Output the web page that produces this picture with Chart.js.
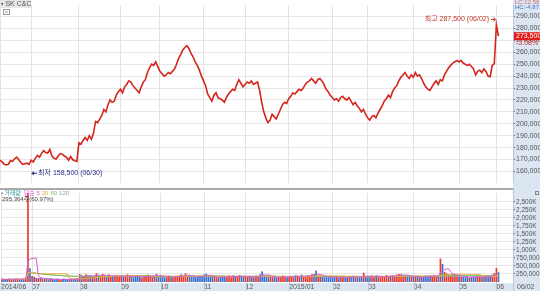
<!DOCTYPE html>
<html>
<head>
<meta charset="utf-8">
<script src="https://cdn.jsdelivr.net/npm/chart.js@4.4.0/dist/chart.umd.min.js"></script>
<style>
  html, body { margin: 0; padding: 0; background: #fff; }
  #wrap { position: relative; width: 540px; height: 291px; overflow: hidden; }
  #priceBox { position: absolute; left: 0; top: 0; width: 540px; height: 188px; }
  #volBox { position: absolute; left: 0; top: 188px; width: 540px; height: 103px; }
</style>
</head>
<body>
<div id="wrap">
  <div id="priceBox"><canvas id="priceChart"></canvas></div>
  <div id="volBox"><canvas id="volChart"></canvas></div>
</div>
<script>
// month boundaries (trading-day index) and their labels
const monthStart = [0, 15, 38, 58, 77, 98, 118, 139, 160, 177, 199, 221, 239];
const monthLabel = ['2014/06', '07', '08', '09', '10', '11', '12', '2015/01', '02', '03', '04', '05', '06'];
const slots = 248;

// daily close, won
const closePrice = [
  169500, 168000, 166000, 165500, 166000, 169000, 168500, 170500, 172000, 170000, 167500, 166000, 166500, 167000, 166000,
  169500, 168000, 171000, 173500, 172000, 175000, 177500, 176000, 175500, 178500, 173000, 171000, 170500, 173000, 175000, 174500, 173000, 172000, 169500, 172500, 170000, 169000, 168500,
  184000, 183000, 186000, 188500, 186000, 190000, 187000, 192000, 202000, 201000, 204000, 207000, 212000, 210000, 216000, 220000, 218000, 219000, 224000, 227000,
  229000, 226000, 231000, 233000, 236000, 235000, 232000, 230000, 228000, 226000, 231000, 235000, 237000, 243000, 247000, 250000, 249000, 252000, 248000,
  244000, 242000, 240000, 241000, 243000, 242000, 244000, 246000, 250000, 255000, 258000, 262000, 264000, 265500, 263000, 259000, 256000, 252000, 249000, 245000, 240000,
  236000, 232000, 225000, 222000, 219000, 224000, 226000, 222000, 221000, 220000, 218000, 222000, 225000, 227000, 229000, 228000, 233000, 237000, 234000, 231000,
  233000, 235000, 234000, 236000, 233000, 234000, 235000, 228000, 218000, 210000, 205000, 201000, 203000, 208000, 206000, 204000, 208000, 212000, 216000, 218000, 217000,
  221000, 223000, 226000, 225000, 227000, 229000, 228000, 230000, 233000, 235000, 236000, 238000, 236000, 234000, 237000, 238000, 236000, 233000, 229000, 227000, 224000,
  222000, 220000, 221000, 219000, 222000, 223000, 221000, 220000, 222000, 219000, 216000, 218000, 215000, 213000, 210000, 212000, 208000,
  205000, 203000, 206000, 207000, 205000, 209000, 212000, 215000, 219000, 221000, 224000, 222000, 227000, 230000, 232000, 236000, 239000, 241000, 243000, 240000, 238000, 241000,
  239000, 243000, 240000, 241000, 238000, 234000, 231000, 229000, 228000, 231000, 234000, 236000, 233000, 237000, 236000, 241000, 244000, 247000, 249000, 251000, 252000, 253000,
  252000, 253000, 251000, 250000, 249000, 250000, 248000, 246000, 241000, 244000, 245000, 243000, 246000, 244000, 240000, 239500, 249000, 250500,
  283000, 273500
];

// daily volume, thousand shares
const volumeK = [
  80, 90, 70, 85, 95, 75, 80, 110, 90, 70, 85, 100, 120, 2850, 420,
  180, 150, 120, 110, 130, 100, 90, 95, 80, 110, 85, 75, 90, 80, 70, 95, 85, 80, 75, 90, 85, 100, 110,
  240, 200, 180, 230, 160, 210, 150, 190, 260, 220, 180, 240, 200, 170, 230, 150, 190, 210, 180, 160,
  200, 170, 150, 230, 190, 160, 140, 180, 210, 150, 130, 170, 190, 220, 200, 160, 180, 240, 170,
  210, 150, 130, 170, 190, 150, 140, 160, 180, 200, 230, 170, 260, 190, 210, 150, 170, 140, 160, 190, 180,
  220, 250, 190, 170, 160, 150, 140, 130, 170, 180, 150, 160, 190, 140, 200, 170, 150, 210, 180, 160,
  170, 150, 180, 160, 140, 190, 150, 230, 320, 200, 180, 170, 150, 140, 160, 130, 150, 170, 190, 150, 140,
  170, 180, 150, 200, 190, 160, 220, 170, 180, 200, 190, 230, 240, 350, 180, 170, 160, 150, 140, 170, 160,
  140, 150, 170, 130, 150, 160, 140, 130, 170, 150, 190, 140, 160, 130, 150, 280, 170,
  150, 160, 190, 170, 200, 180, 150, 160, 170, 210, 180, 190, 200, 170, 220, 240, 230, 210, 190, 200, 180, 170,
  160, 150, 170, 140, 150, 160, 190, 170, 200, 180, 210, 160, 190, 720, 550, 300, 260, 230, 200, 250, 220, 190,
  180, 160, 150, 140, 170, 130, 150, 160, 170, 180, 150, 140, 160, 170, 190, 200, 220, 260,
  430, 295
];

const priceTicks = [160000, 170000, 180000, 190000, 200000, 210000, 220000, 230000, 240000, 250000, 260000, 270000, 280000, 290000];
const volumeTicks = [250000, 500000, 750000, 1000000, 1250000, 1500000, 1750000, 2000000, 2250000, 2500000];
const maPeriods = [5, 20, 60, 120];
const maColors = ['#d85ad8', '#e3b13c', '#7cbf5a', '#b4b4b4'];

const FONT = "'Liberation Sans', 'Noto Sans CJK KR', sans-serif";
const BAND = '#dce6f2';
const labels = Array.from({ length: slots }, (_, i) => i);
const volume = volumeK.map(v => v * 1000);
const barColors = closePrice.map((p, i) => (i === 0 || p >= closePrice[i - 1]) ? '#e5392f' : '#3a6fd0');

function movingAvg(arr, n) {
  return arr.map((_, i) => {
    const from = Math.max(0, i - n + 1);
    const part = arr.slice(from, i + 1);
    return part.reduce((a, b) => a + b, 0) / part.length;
  });
}

const monthGrid = ctx => (ctx.tick && monthStart.includes(ctx.tick.value)) ? '#e2e2e2' : 'rgba(0,0,0,0)';

function text(ctx, s, x, y, color, align) {
  ctx.fillStyle = color;
  ctx.textAlign = align || 'left';
  ctx.fillText(s, x, y);
  return x + ctx.measureText(s).width;
}

// light blue axis area + annotations on the price panel
const pricePlugin = {
  id: 'priceExtras',
  beforeDraw(chart) {
    const { ctx, chartArea } = chart;
    ctx.save();
    ctx.fillStyle = BAND;
    ctx.fillRect(chartArea.right, 0, chart.width - chartArea.right, chart.height);
    ctx.restore();
  },
  afterDraw(chart) {
    const { ctx, chartArea, scales } = chart;
    const y = scales.y, x = scales.x;
    ctx.save();
    ctx.font = '7px ' + FONT;
    ctx.textBaseline = 'middle';

    // series label top-left
    ctx.fillStyle = '#e6e6e6';
    ctx.fillRect(0, 0, 31, 8);
    text(ctx, '▪ SK C&C', 1, 4, '#555');
    ctx.strokeStyle = '#999';
    ctx.strokeRect(3.5, 9.5, 6, 5);
    ctx.beginPath(); ctx.moveTo(5, 12); ctx.lineTo(8, 12); ctx.stroke();

    // high marker
    const yHi = y.getPixelForValue(287500);
    text(ctx, '최고 287,500 (06/02)', 489, yHi, '#c0392b', 'right');
    const xHi = x.getPixelForValue(239);
    ctx.strokeStyle = '#c0392b';
    ctx.beginPath(); ctx.moveTo(491, yHi); ctx.lineTo(xHi - 1, yHi); ctx.stroke();
    ctx.beginPath(); ctx.moveTo(xHi - 3, yHi - 2); ctx.lineTo(xHi - 1, yHi); ctx.lineTo(xHi - 3, yHi + 2); ctx.stroke();

    // low marker
    const yLo = y.getPixelForValue(158500);
    const xLo = x.getPixelForValue(14) + 2;
    ctx.fillStyle = '#2b2b8c';
    ctx.beginPath(); ctx.moveTo(xLo, yLo); ctx.lineTo(xLo + 3, yLo - 2); ctx.lineTo(xLo + 3, yLo + 2); ctx.fill();
    ctx.strokeStyle = '#2b2b8c';
    ctx.beginPath(); ctx.moveTo(xLo + 3, yLo); ctx.lineTo(xLo + 6, yLo); ctx.stroke();
    text(ctx, '최저 158,500 (06/30)', xLo + 7, yLo, '#2b2b8c');

    // last price box
    const last = closePrice[closePrice.length - 1];
    const yLast = y.getPixelForValue(last);
    ctx.fillStyle = '#e31b1b';
    ctx.fillRect(chartArea.right + 1, yLast - 4, chart.width - chartArea.right - 1, 8);
    text(ctx, '273,500', chartArea.right + 3, yLast, '#fff');
    text(ctx, '-3.08%', chartArea.right + 3, yLast + 7, '#d03030');

    ctx.font = '6px ' + FONT;
    text(ctx, 'LC:12.56', chartArea.right + 2, 2.5, '#d06a6a');
    text(ctx, 'HC:-4.87', chartArea.right + 2, 7.5, '#4a6ac8');
    ctx.restore();
  }
};

const volPlugin = {
  id: 'volExtras',
  beforeDraw(chart) {
    const { ctx, chartArea } = chart;
    ctx.save();
    ctx.fillStyle = BAND;
    ctx.fillRect(chartArea.right, 0, chart.width - chartArea.right, chart.height);
    ctx.fillRect(0, chartArea.bottom + 1, chart.width, chart.height - chartArea.bottom);
    ctx.restore();
  },
  afterDraw(chart) {
    const { ctx, chartArea, scales } = chart;
    ctx.save();
    // panel separator
    ctx.strokeStyle = '#a9a9a9';
    ctx.lineWidth = 2;
    ctx.beginPath(); ctx.moveTo(0, 1); ctx.lineTo(chartArea.right, 1); ctx.stroke();
    // dividers in the date strip
    ctx.lineWidth = 1;
    ctx.strokeStyle = '#b9c6d8';
    monthStart.forEach(i => {
      const px = Math.round(scales.x.getPixelForValue(i)) + 0.5;
      ctx.beginPath(); ctx.moveTo(px, chartArea.bottom); ctx.lineTo(px, chart.height); ctx.stroke();
    });
    ctx.beginPath(); ctx.moveTo(chartArea.right + 0.5, 0); ctx.lineTo(chartArea.right + 0.5, chart.height); ctx.stroke();

    ctx.textBaseline = 'middle';
    ctx.font = '6px ' + FONT;
    let cx = text(ctx, '▪', 1, 5, '#888') + 1;
    cx = text(ctx, '거래량', cx, 5, '#2a9a9a') + 3;
    cx = text(ctx, '단순 5', cx, 5, maColors[0]) + 2;
    cx = text(ctx, '20', cx, 5, maColors[1]) + 2;
    cx = text(ctx, '60', cx, 5, maColors[2]) + 2;
    text(ctx, '120', cx, 5, '#a0a0a0');
    text(ctx, '295,364주(60.97%)', 2, 11, '#444');
    ctx.font = '7px ' + FONT;
    text(ctx, '06/02', chartArea.right + 4, chart.height - 4, '#555');

    ctx.strokeStyle = '#888';
    ctx.strokeRect(535.5, 3.5, 3, 3);
    ctx.restore();
  }
};

new Chart(document.getElementById('priceChart'), {
  type: 'line',
  data: {
    labels: labels,
    datasets: [{
      data: closePrice,
      borderColor: '#d3261c',
      borderWidth: 1.6,
      pointRadius: 0,
      tension: 0
    }]
  },
  options: {
    responsive: true,
    maintainAspectRatio: false,
    animation: false,
    layout: { padding: 0 },
    plugins: { legend: { display: false }, tooltip: { enabled: false } },
    scales: {
      x: {
        type: 'category',
        offset: false,
        ticks: { display: false, autoSkip: false },
        grid: { color: monthGrid, drawTicks: false, offset: false },
        border: { display: false },
        afterFit: s => { s.height = 0; }
      },
      y: {
        position: 'right',
        min: 150500,
        max: 299500,
        afterBuildTicks: s => { s.ticks = priceTicks.map(v => ({ value: v })); },
        ticks: {
          autoSkip: false,
          padding: 1,
          color: '#555',
          font: { size: 7, family: FONT },
          callback: v => v.toLocaleString('en-US')
        },
        grid: { color: '#e6e6e6', tickLength: 2, tickColor: '#666' },
        border: { color: '#b9c6d8' },
        afterFit: s => { s.width = 27; }
      }
    }
  },
  plugins: [pricePlugin]
});

const maSets = maPeriods.map((n, k) => ({
  type: 'line',
  data: movingAvg(volume, n),
  borderColor: maColors[k],
  borderWidth: 1,
  pointRadius: 0,
  tension: 0,
  order: 1
}));

new Chart(document.getElementById('volChart'), {
  type: 'bar',
  data: {
    labels: labels,
    datasets: [{
      data: volume,
      backgroundColor: barColors,
      barThickness: 1,
      order: 2
    }].concat(maSets)
  },
  options: {
    responsive: true,
    maintainAspectRatio: false,
    animation: false,
    layout: { padding: { top: 2 } },
    plugins: { legend: { display: false }, tooltip: { enabled: false } },
    scales: {
      x: {
        type: 'category',
        offset: false,
        ticks: {
          autoSkip: false,
          maxRotation: 0,
          align: 'start',
          padding: 1,
          color: '#555',
          font: { size: 7, family: FONT },
          callback: (v, i) => {
            const k = monthStart.indexOf(i);
            return k >= 0 ? monthLabel[k] : '';
          }
        },
        grid: { color: monthGrid, drawTicks: false, offset: false },
        border: { display: false },
        afterFit: s => { s.height = 9; }
      },
      y: {
        position: 'right',
        min: 0,
        max: 2780000,
        afterBuildTicks: s => { s.ticks = volumeTicks.map(v => ({ value: v })); },
        ticks: {
          autoSkip: false,
          padding: 1,
          color: '#555',
          font: { size: 6.5, family: FONT },
          callback: v => v >= 1000000 ? (v / 1000).toLocaleString('en-US') + 'K' : v.toLocaleString('en-US')
        },
        grid: { color: '#e6e6e6', tickLength: 2, tickColor: '#666' },
        border: { color: '#b9c6d8' },
        afterFit: s => { s.width = 27; }
      }
    }
  },
  plugins: [volPlugin]
});
</script>
</body>
</html>
